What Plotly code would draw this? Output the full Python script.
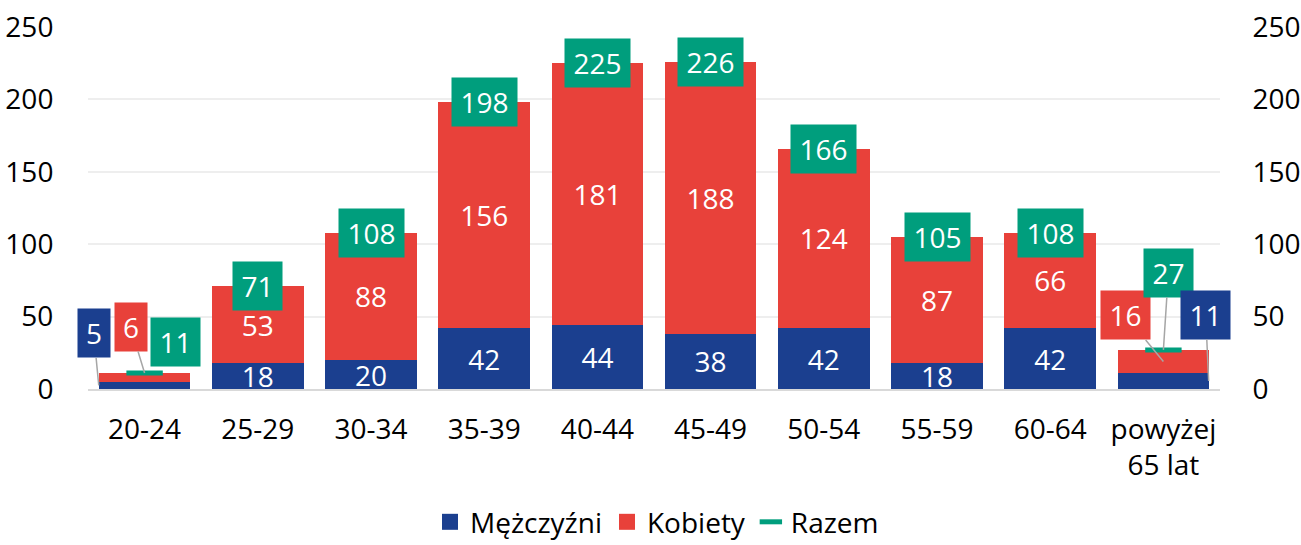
import plotly.graph_objects as go

categories = ["20-24", "25-29", "30-34", "35-39", "40-44", "45-49", "50-54", "55-59", "60-64", "powyżej<br>65 lat"]
men = [5, 18, 20, 42, 44, 38, 42, 18, 42, 11]
women = [6, 53, 88, 156, 181, 188, 124, 87, 66, 16]
total = [11, 71, 108, 198, 225, 226, 166, 105, 108, 27]
y_ticks = [0, 50, 100, 150, 200, 250]

BLUE = "#1B3F8F"
RED = "#E8413A"
GREEN = "#009E7D"
GRAY = "#A6A6A6"
FONT = "Open Sans"
FS = 28

callout_idx = {0, len(categories) - 1}

men_text = ["" if i in callout_idx else str(v) for i, v in enumerate(men)]
women_text = ["" if i in callout_idx else str(v) for i, v in enumerate(women)]

fig = go.Figure()
fig.add_trace(go.Bar(
    name="Mężczyźni", x=categories, y=men, marker=dict(color=BLUE, line=dict(width=0)),
    text=men_text, textposition="inside", insidetextanchor="middle", constraintext="none",
    textangle=0, textfont=dict(color="white", size=FS, family=FONT), hoverinfo="skip",
    showlegend=False,
))
fig.add_trace(go.Bar(
    name="Kobiety", x=categories, y=women, marker=dict(color=RED, line=dict(width=0)),
    text=women_text, textposition="inside", insidetextanchor="middle", constraintext="none",
    textangle=0, textfont=dict(color="white", size=FS, family=FONT), hoverinfo="skip",
    showlegend=False,
))
fig.add_trace(go.Scatter(
    name="Razem", x=categories, y=total, mode="markers",
    marker=dict(symbol="line-ew", size=26, line=dict(color=GREEN, width=5), color=GREEN),
    hoverinfo="skip", showlegend=False,
))
# legend entries
for nm, col, sym in [("Mężczyźni", BLUE, "square"), ("Kobiety", RED, "square"), ("Razem", GREEN, "line-ew")]:
    if sym == "square":
        mk = dict(symbol="square", size=18, color=col, line=dict(width=0))
    else:
        mk = dict(symbol="line-ew", size=20, color=col, line=dict(color=col, width=5))
    fig.add_trace(go.Scatter(name=nm, x=[None], y=[None], mode="markers", marker=mk, hoverinfo="skip"))
# invisible trace to drive the right axis
fig.add_trace(go.Scatter(x=categories, y=total, yaxis="y2", mode="markers",
                         marker=dict(opacity=0), showlegend=False, hoverinfo="skip"))


def box_w(s):
    return {1: 32, 2: 49, 3: 65}[len(s)]


annotations = []
for i, t in enumerate(total):
    if i in callout_idx:
        continue
    s = str(t)
    annotations.append(dict(x=categories[i], y=t, xref="x", yref="y", text=s, showarrow=False,
                            bgcolor=GREEN, font=dict(color="white", size=FS, family=FONT),
                            width=box_w(s), height=48, borderpad=0))


def callout(x, y, s, color, ax, ay, arrow=True):
    d = dict(x=x, y=y, xref="x", yref="y", text=s, bgcolor=color,
             font=dict(color="white", size=FS, family=FONT),
             width=box_w(s), height=48, borderpad=0)
    if arrow:
        d.update(showarrow=True, arrowhead=0, arrowwidth=1.5, arrowcolor=GRAY,
                 ax=ax, ay=ay, axref="pixel", ayref="pixel", standoff=0)
    else:
        d.update(showarrow=False, xshift=ax, yshift=ay)
    return d


# first category callouts
annotations.append(callout(-0.405, men[0] / 2, str(men[0]), BLUE, -5, -52))
annotations.append(callout(0.0, men[0] + women[0] / 2 + 3, str(women[0]), RED, -14, -46))
annotations.append(callout(0.0, total[0], str(total[0]), GREEN, 31, 31, arrow=False))
# last category callouts
n = len(categories) - 1
annotations.append(callout(n, men[n] + women[n] / 2, str(women[n]), RED, -38, -46))
annotations.append(callout(n, total[n], str(total[n]), GREEN, 5, -77))
annotations.append(callout(n + 0.40, men[n] / 2, str(men[n]), BLUE, -3, -66))

fig.update_layout(
    barmode="stack", bargap=0.19,
    width=1301, height=545,
    margin=dict(l=88, r=81, t=27, b=156, autoexpand=False),
    paper_bgcolor="white", plot_bgcolor="white",
    font=dict(family=FONT, size=FS, color="black"),
    showlegend=True,
    legend=dict(orientation="h", xref="container", yref="container", x=0.505, xanchor="center",
                y=0.042, yanchor="middle", font=dict(size=FS, family=FONT), itemwidth=30,
                traceorder="normal", tracegroupgap=0),
    xaxis=dict(type="category", range=[-0.5, len(categories) - 0.5], showline=True,
               linecolor="#D9D9D9", linewidth=2,
               showgrid=False, ticks="outside", ticklen=14, tickcolor="rgba(0,0,0,0)",
               tickfont=dict(size=FS, family=FONT, color="black"), fixedrange=True,
               automargin=False),
    yaxis=dict(range=[0, 250], tickvals=y_ticks, showgrid=True, gridcolor="#EEEEEE", gridwidth=1.5,
               zeroline=False, ticks="outside", ticklen=28, tickcolor="rgba(0,0,0,0)",
               tickfont=dict(size=FS, family=FONT, color="black"), automargin=False),
    yaxis2=dict(range=[0, 250], tickvals=y_ticks, overlaying="y", side="right", showgrid=False,
                zeroline=False, ticks="outside", ticklen=26, tickcolor="rgba(0,0,0,0)",
                tickfont=dict(size=FS, family=FONT, color="black"), automargin=False),
    annotations=annotations,
)

fig.write_html("out.html", config={"displayModeBar": False},
               post_script="document.body.style.margin='0';document.body.style.overflow='hidden';")
